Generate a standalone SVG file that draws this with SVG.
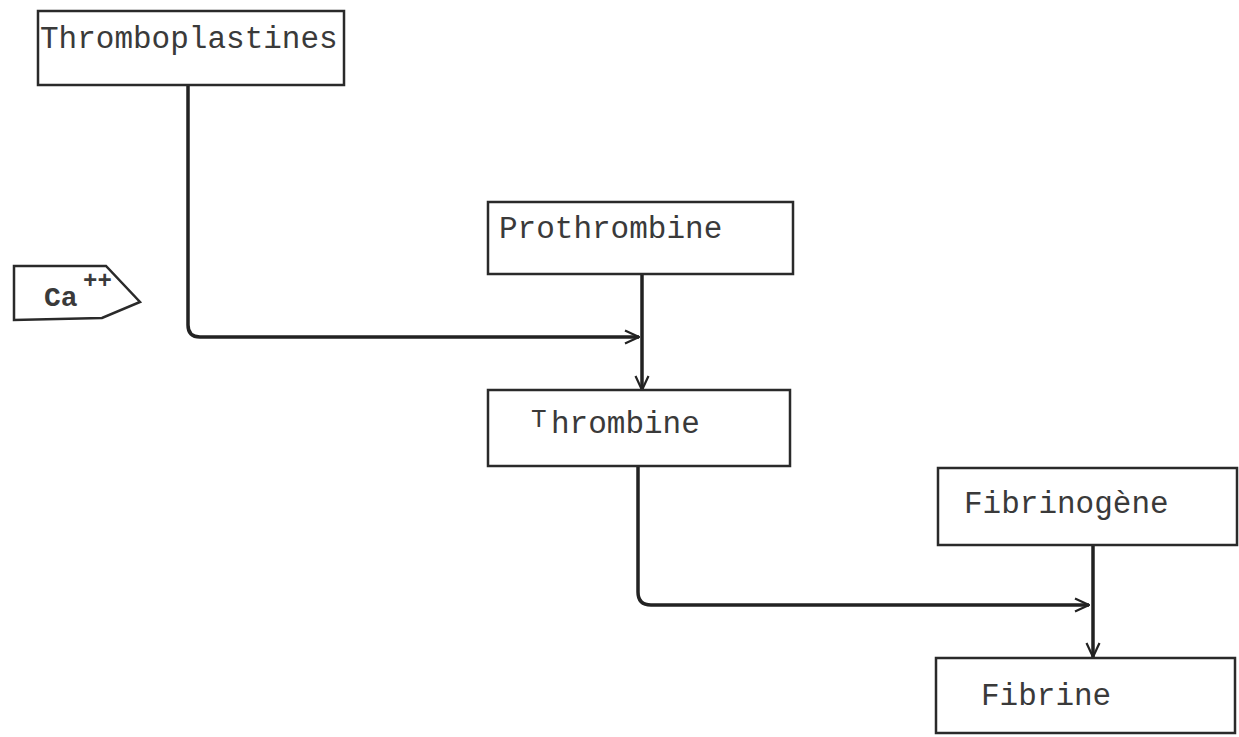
<svg xmlns="http://www.w3.org/2000/svg" width="1239" height="737" viewBox="0 0 1239 737">
<defs>
<style>
.box{fill:none;stroke:#2a2a2a;stroke-width:2.5}
.lbl{font-family:"Liberation Mono","Courier New",monospace;font-size:31px;fill:#3a3a3a}
.conn{fill:none;stroke:#222;stroke-width:3.5}
</style>
<marker id="arr" viewBox="0 0 16 16" refX="15" refY="8" markerWidth="16" markerHeight="16" markerUnits="userSpaceOnUse" orient="auto">
<polyline points="1,1.5 15,8 1,14.5" fill="none" stroke="#222" stroke-width="2.2"/>
</marker>
</defs>
<rect width="1239" height="737" fill="#fff"/>
<g id="connectors">
<path class="conn" d="M188,86 V325 Q188,337 200,337 H639" marker-end="url(#arr)"/>
<path class="conn" d="M642,274 V390" marker-end="url(#arr)"/>
<path class="conn" d="M638,466 V592 Q638,605 651,605 H1089" marker-end="url(#arr)"/>
<path class="conn" d="M1093,545 V657" marker-end="url(#arr)"/>
</g>
<g id="thromboplastines">
<rect class="box" x="38" y="11" width="306" height="74"/>
<text class="lbl" x="40" y="48">Thromboplastines</text>
</g>
<g id="ca">
<polygon class="box" points="14,266 106,266 140,302 102,318 14,320"/>
<text class="lbl" x="44" y="306" style="font-size:28px;font-weight:bold">Ca</text>
<text class="lbl" x="83" y="288" style="font-size:24px;font-weight:bold">++</text>
</g>
<g id="prothrombine">
<rect class="box" x="488" y="202" width="305" height="72"/>
<text class="lbl" x="499" y="238">Prothrombine</text>
</g>
<g id="thrombine">
<rect class="box" x="488" y="390" width="302" height="76"/>
<text class="lbl" x="531" y="433"><tspan style="font-size:26px" dy="-6">T</tspan><tspan x="551" dy="6">hrombine</tspan></text>
</g>
<g id="fibrinogene">
<rect class="box" x="938" y="468" width="299" height="77"/>
<text class="lbl" x="964" y="513">Fibrinogène</text>
</g>
<g id="fibrine">
<rect class="box" x="936" y="658" width="299" height="75"/>
<text class="lbl" x="981" y="705">Fibrine</text>
</g>
</svg>
